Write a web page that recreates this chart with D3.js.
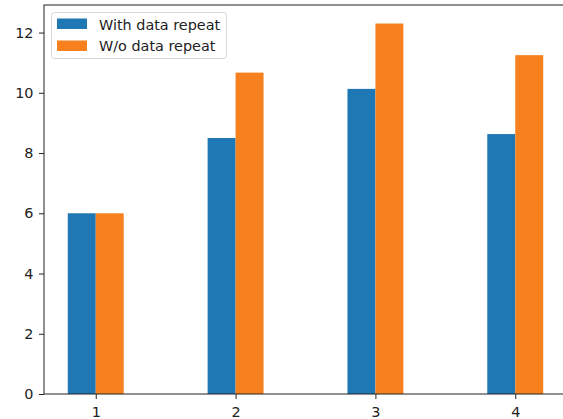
<!DOCTYPE html>
<html><head><meta charset="utf-8">
<script src="https://cdn.jsdelivr.net/npm/d3@7"></script>
<style>
body{margin:0;background:#fff;}
svg{display:block;}
text{font-family:"DejaVu Sans",sans-serif;}
</style></head>
<body>
<script>
const categories = [1, 2, 3, 4];
const withRepeat = [6.0, 8.5, 10.13, 8.63];
const withoutRepeat = [6.0, 10.67, 12.3, 11.25];
const seriesNames = ["With data repeat", "W/o data repeat"];
const colors = ["#1f77b4", "#f7801f"];
const yTicks = [0, 2, 4, 6, 8, 10, 12];

const W = 563, H = 419;
const mLeft = 44, mRight = 567, mTop = 5, mBottom = 394;
const fontSize = 14.4;
const svg = d3.select("body").append("svg").attr("width", W).attr("height", H);

const x = d3.scaleLinear().domain([0.63, 4.37]).range([mLeft, mRight]);
const y = d3.scaleLinear().domain([0, 12.915]).range([mBottom, mTop]);
const barW = 0.2;

const series = [withRepeat, withoutRepeat];
series.forEach((vals, si) => {
  const off = si === 0 ? -barW : 0;
  svg.append("g").selectAll("rect").data(categories).enter().append("rect")
    .attr("x", d => x(d + off))
    .attr("width", d => x(d + off + barW) - x(d + off))
    .attr("y", (d, i) => y(vals[i]))
    .attr("height", (d, i) => y(0) - y(vals[i]))
    .attr("fill", colors[si]);
});

// axes
const xAxis = d3.axisBottom(x).tickValues(categories).tickFormat(d3.format("d")).tickSize(5).tickPadding(7.3);
const yAxis = d3.axisLeft(y).tickValues(yTicks).tickSize(5).tickPadding(5.5);
const gx = svg.append("g").attr("transform", `translate(0,${mBottom})`).call(xAxis);
const gy = svg.append("g").attr("transform", `translate(${mLeft},0)`).call(yAxis);
[gx, gy].forEach(g => {
  g.select(".domain").remove();
  g.selectAll("line").attr("stroke", "#222").attr("stroke-width", 1);
  g.selectAll("text").attr("font-size", fontSize).attr("fill", "#222").attr("font-family", "DejaVu Sans");
});

// spines
svg.append("rect").attr("x", mLeft).attr("y", mTop).attr("width", mRight - mLeft).attr("height", mBottom - mTop)
  .attr("fill", "none").attr("stroke", "#222").attr("stroke-width", 1);

// legend
const lg = svg.append("g");
lg.append("rect").attr("x", 51.5).attr("y", 12.5).attr("width", 175).attr("height", 46).attr("rx", 3)
  .attr("fill", "#fff").attr("fill-opacity", 0.8).attr("stroke", "#d6d6d6");
seriesNames.forEach((n, i) => {
  lg.append("rect").attr("x", 57).attr("y", 18.5 + i * 22).attr("width", 30).attr("height", 10.5).attr("fill", colors[i]);
  lg.append("text").attr("x", 99).attr("y", 29.5 + i * 21.7).attr("font-size", fontSize).attr("fill", "#222").text(n);
});
</script>
</body></html>
